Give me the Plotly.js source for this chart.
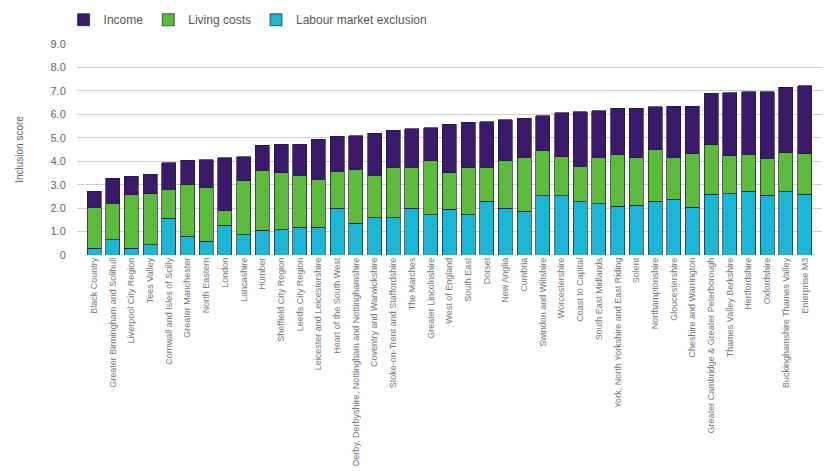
<!DOCTYPE html>
<html>
<head>
<meta charset="utf-8">
<script src="https://cdn.plot.ly/plotly-3.0.1.min.js"></script>
<style>html,body{margin:0;padding:0;background:#fff;}#chart{width:827px;height:471px;}</style>
</head>
<body>
<div id="chart"></div>
<script>
const regions = [
  "Black Country",
  "Greater Birmingham and Solihull",
  "Liverpool City Region",
  "Tees Valley",
  "Cornwall and Isles of Scilly",
  "Greater Manchester",
  "North Eastern",
  "London",
  "Lancashire",
  "Humber",
  "Sheffield City Region",
  "Leeds City Region",
  "Leicester and Leicestershire",
  "Heart of the South West",
  "Derby, Derbyshire, Nottingham and Nottinghamshire",
  "Coventry and Warwickshire",
  "Stoke-on-Trent and Staffordshire",
  "The Marches",
  "Greater Lincolnshire",
  "West of England",
  "South East",
  "Dorset",
  "New Anglia",
  "Cumbria",
  "Swindon and Wiltshire",
  "Worcestershire",
  "Coast to Capital",
  "South East Midlands",
  "York, North Yorkshire and East Riding",
  "Solent",
  "Northamptonshire",
  "Gloucestershire",
  "Cheshire and Warrington",
  "Greater Cambridge & Greater Peterborough",
  "Thames Valley Berkshire",
  "Hertfordshire",
  "Oxfordshire",
  "Buckinghamshire Thames Valley",
  "Enterprise M3"
];

const labourMarketExclusion = [0.28,0.65,0.28,0.44,1.56,0.80,0.58,1.27,0.87,1.06,1.07,1.18,1.18,2.00,1.36,1.58,1.58,2.00,1.72,1.96,1.72,2.30,2.00,1.86,2.52,2.52,2.27,2.19,2.07,2.13,2.30,2.37,2.04,2.59,2.62,2.71,2.55,2.69,2.59];
const livingCosts = [1.76,1.55,2.30,2.18,1.24,2.19,2.31,0.62,2.30,2.55,2.44,2.22,2.06,1.57,2.29,1.82,2.17,1.75,2.30,1.55,2.00,1.45,2.02,2.31,1.93,1.68,1.52,1.97,2.20,2.02,2.20,1.80,2.27,2.12,1.61,1.59,1.58,1.68,1.72];
const income = [0.69,1.08,0.77,0.82,1.13,1.05,1.17,2.26,1.03,1.07,1.21,1.32,1.69,1.49,1.43,1.79,1.57,1.64,1.41,2.07,1.94,1.94,1.75,1.67,1.49,1.87,2.33,2.00,2.00,2.12,1.82,2.17,2.04,2.18,2.70,2.66,2.83,2.78,2.92];

const yTickVals = [0,1,2,3,4,5,6,7,8,9];
const yTickText = ["0","1.0","2.0","3.0","4.0","5.0","6.0","7.0","8.0","9.0"];

const seriesNames = ["Labour market exclusion","Living costs","Income"];
const seriesColors = ["#1bb6d6","#5cba3c","#3b1a6b"];
const seriesValues = [labourMarketExclusion, livingCosts, income];

const traces = seriesValues.map((vals, i) => ({
  type: "bar",
  name: seriesNames[i],
  x: regions,
  y: vals,
  marker: {color: seriesColors[i], line: {color: "rgba(25,25,45,0.85)", width: 0.8}},
  hoverinfo: "x+y+name"
}));

const layout = {
  width: 827,
  height: 471,
  barmode: "stack",
  bargap: 0.25,
  paper_bgcolor: "#ffffff",
  plot_bgcolor: "#ffffff",
  margin: {l: 77, r: 5, t: 37, b: 216},
  font: {family: "Liberation Sans, Arial, sans-serif", color: "#666"},
  showlegend: true,
  legend: {
    orientation: "h",
    traceorder: "reversed",
    x: -0.018, xanchor: "left",
    y: 1.115, yanchor: "middle",
    font: {size: 12, color: "#555"},
    itemwidth: 30
  },
  xaxis: {
    type: "category",
    range: [-0.91, 38.93],
    tickangle: -90,
    tickfont: {size: 9, color: "#777"},
    showgrid: false,
    showline: false,
    zeroline: false,
    ticks: "",
    automargin: false
  },
  yaxis: {
    range: [0, 9],
    tickvals: yTickVals,
    ticktext: yTickText,
    tickfont: {size: 11, color: "#666"},
    showgrid: true,
    gridcolor: "#cfcfcf",
    gridwidth: 1,
    zeroline: false,
    showline: false,
    ticks: "outside",
    ticklen: 8,
    tickcolor: "rgba(0,0,0,0)",
    title: {text: "Inclusion score", font: {size: 10, color: "#666"}, standoff: 25},
    automargin: false
  }
};

Plotly.newPlot("chart", traces, layout, {displayModeBar: false, staticPlot: true});
</script>
</body>
</html>
